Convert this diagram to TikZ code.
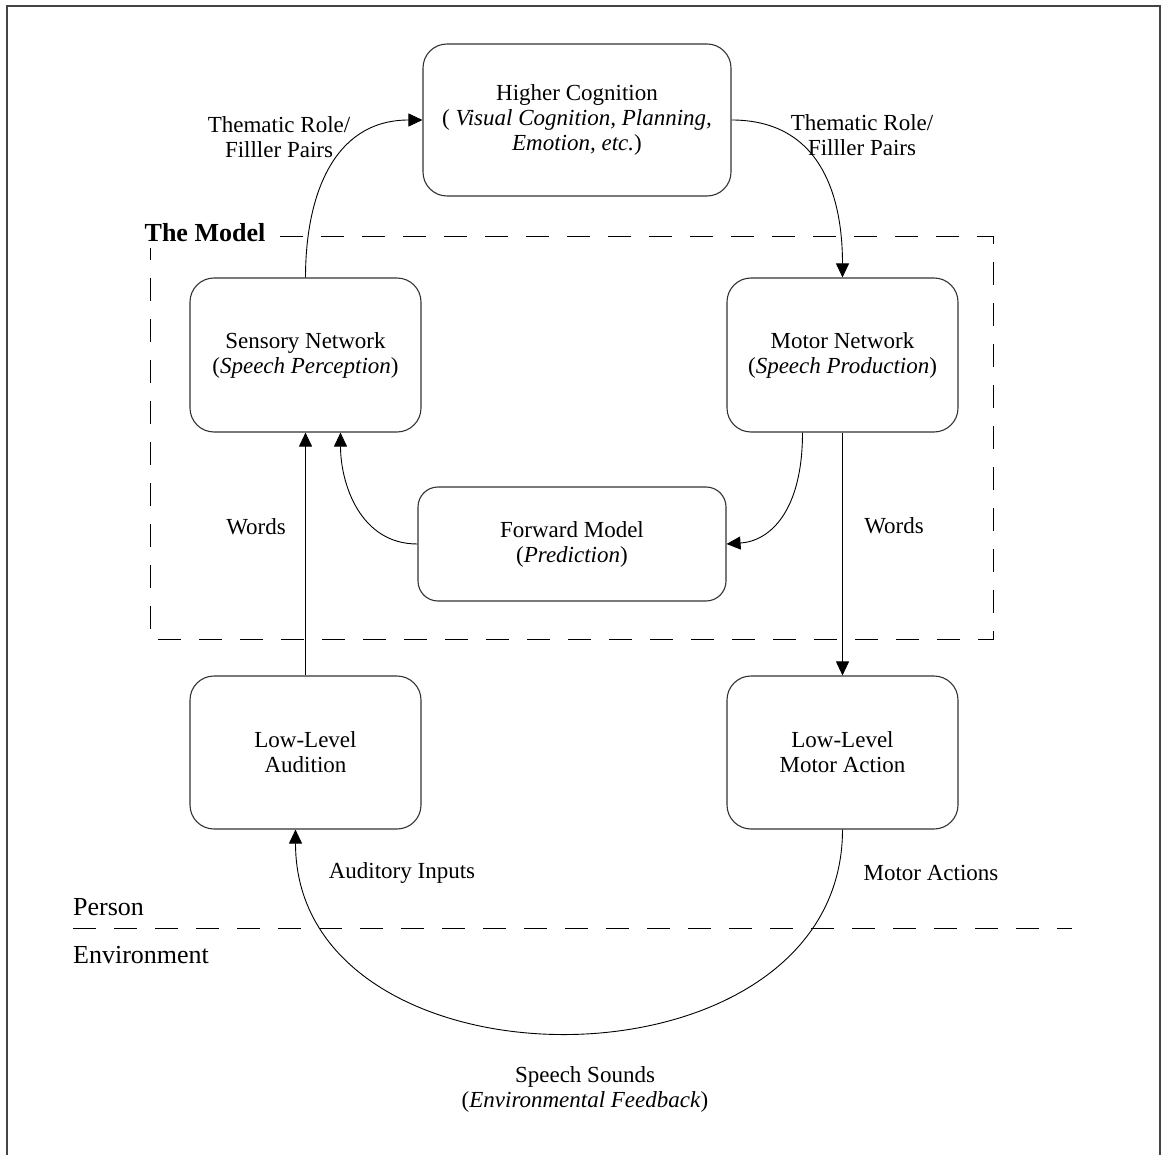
\documentclass[tikz,border=0pt]{standalone}
\usepackage{fontspec}
\setmainfont{Liberation Serif}
\usetikzlibrary{arrows.meta}
\newcommand{\txtfont}{\fontsize{23}{25}\selectfont}
\newcommand{\bigtxtfont}{\fontsize{26}{28}\selectfont}
\definecolor{boxc}{HTML}{333333}
\definecolor{framec}{HTML}{444444}
\begin{document}
\begin{tikzpicture}[x=1pt,y=-1pt,
  box/.style={draw=boxc, line width=1.1pt, rounded corners=24pt, align=center, inner sep=0pt, font=\txtfont},
  conn/.style={line width=0.9pt, -{Triangle[length=14pt,width=13pt]}},
  lbl/.style={align=center, inner sep=0pt, font=\txtfont},
  dashline/.style={line width=1pt, dash pattern=on 23pt off 18pt}]
\useasboundingbox (0,0) rectangle (1162,1155);
\fill[white] (0,0) rectangle (1162,1155);
% frame
\draw[framec, line width=1.4pt] (7,1155) -- (7,6) -- (1160,6) -- (1160,1155);
% model box
\draw[dashline] (150,237) rectangle (993,639);
\node[font=\bigtxtfont\bfseries, fill=white, inner sep=6pt] (model) at (205,233) {The Model};
% boxes
\node[box, minimum width=308pt, minimum height=152pt] (hc) at (577,120) {Higher Cognition\\( \textit{Visual Cognition, Planning,}\\\textit{Emotion, etc.})};
\node[box, minimum width=231pt, minimum height=154pt] (sens) at (305.5,355) {Sensory Network\\(\textit{Speech Perception})};
\node[box, minimum width=231pt, minimum height=154pt] (mot) at (842.5,355) {Motor Network\\(\textit{Speech Production})};
\node[box, rounded corners=20pt, minimum width=308pt, minimum height=114pt] (fwd) at (572,544) {Forward Model\\(\textit{Prediction})};
\node[box, minimum width=231pt, minimum height=153pt] (aud) at (305.5,752.5) {Low-Level\\Audition};
\node[box, minimum width=231pt, minimum height=153pt] (mact) at (842.5,752.5) {Low-Level\\Motor Action};
% connectors
\draw[conn] (sens.north) .. controls +(0,-80) and +(-90,0) .. (hc.west);
\draw[conn] (hc.east) .. controls +(90,0) and +(0,-80) .. (mot.north);
\draw[conn] (aud.north) -- (sens.south);
\draw[conn] (mot.south) -- (mact.north);
\draw[conn] ([xshift=-40pt]mot.south) .. controls +(0,78) and +(44,-3) .. (fwd.east);
\draw[conn] (fwd.west) .. controls +(-58,0) and +(0,50) .. ([xshift=35pt]sens.south);
\draw[conn] (mact.south) .. controls +(0,271) and +(0,271) .. ([xshift=-10pt]aud.south);
% person / environment
\draw[dashline] (73,928) -- (1072,928);
\node[font=\bigtxtfont, anchor=west, inner sep=0pt] (person) at (73,907) {Person};
\node[font=\bigtxtfont, anchor=west, inner sep=0pt] (env) at (73,955) {Environment};
% labels
\node[lbl] (tl) at (279,137) {Thematic Role/\\Filller Pairs};
\node[lbl] (tr) at (862,135) {Thematic Role/\\Filller Pairs};
\node[lbl] (wl) at (256,527) {Words};
\node[lbl] (wr) at (894,526) {Words};
\node[lbl] (ai) at (402,873) {Auditory Inputs};
\node[lbl] (ma) at (931,873) {Motor Actions};
\node[lbl] (ss) at (585,1089) {Speech Sounds\\(\textit{Environmental Feedback})};
\end{tikzpicture}
\end{document}
